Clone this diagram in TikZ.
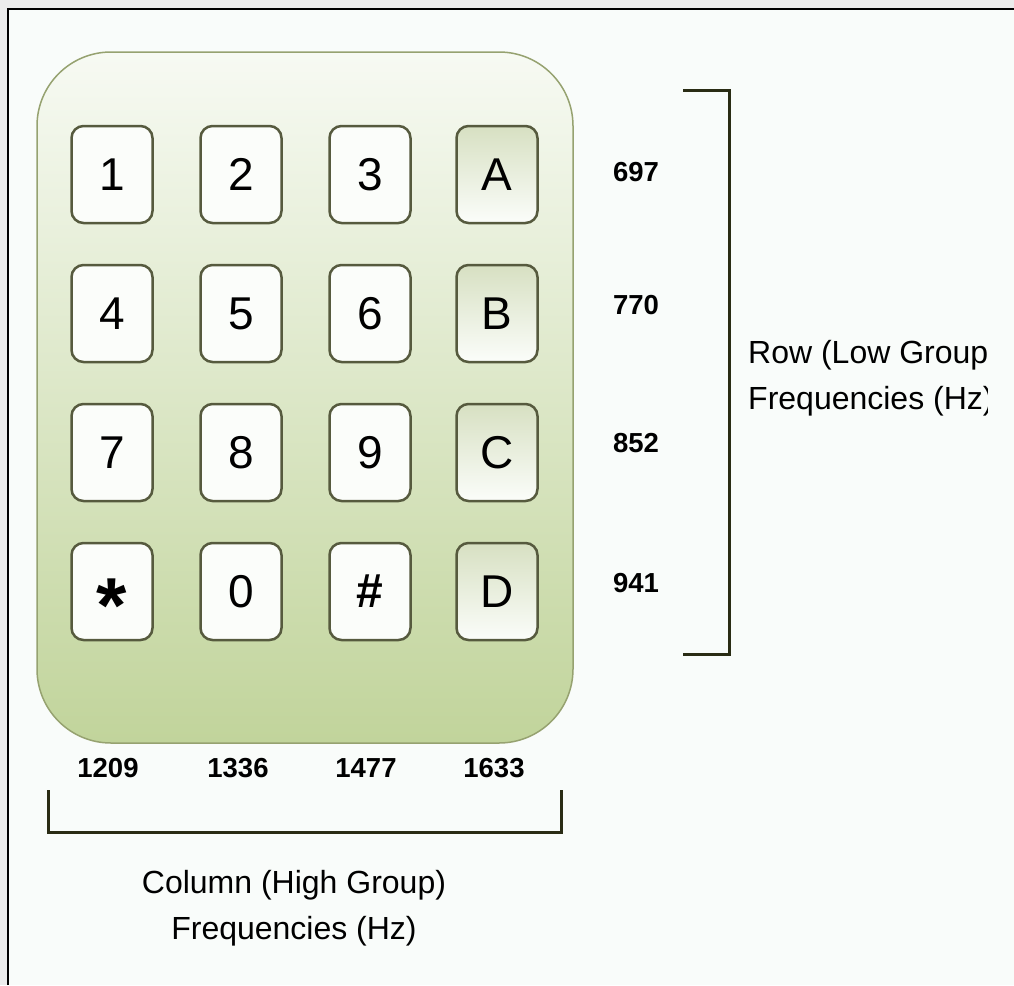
\documentclass[tikz,border=0pt]{standalone}
\usepackage{fontspec}
\setmainfont{Liberation Sans}
\definecolor{bg}{RGB}{249,252,250}
\definecolor{outer}{RGB}{236,236,236}
\definecolor{bodytop}{RGB}{247,250,243}
\definecolor{bodymid}{RGB}{226,235,208}
\definecolor{bodybot}{RGB}{193,212,155}
\definecolor{bodyedge}{RGB}{150,162,112}
\definecolor{keyedge}{RGB}{86,90,62}
\definecolor{keyfill}{RGB}{251,253,250}
\definecolor{keytint}{RGB}{215,224,194}
\definecolor{brk}{RGB}{42,44,20}
\begin{document}
\begin{tikzpicture}[x=1pt,y=-1pt,
  keybox/.style={draw=keyedge, line width=2.5pt, rounded corners=12pt, fill=keyfill,
    minimum width=81pt, minimum height=97pt, inner sep=0pt,
    font=\fontsize{46}{46}\selectfont},
  keytinted/.style={keybox, top color=keytint, bottom color=keyfill},
  freq/.style={font=\bfseries\fontsize{27.5}{28}\selectfont, inner sep=0pt},
  caption/.style={font=\fontsize{32}{46}\selectfont, inner sep=0pt},
  bracket/.style={draw=brk, line width=3pt}
]
\clip (0,0) rectangle (1014,985);
\useasboundingbox (0,0) rectangle (1014,985);
% background and frame
\fill[outer] (0,0) rectangle (1014,985);
\fill[bg] (8,9) rectangle (1014,985);
\draw[black, line width=2.5pt] (8,985) -- (8,9) -- (1014,9);

% keypad body
\node (body) [draw=bodyedge, line width=1.5pt, rounded corners=74pt,
  top color=bodytop, middle color=bodymid, bottom color=bodybot,
  minimum width=536pt, minimum height=691pt, inner sep=0pt] at (305,397.5) {};

% keys
\node[keybox] (k1) at (112,174.5) {1};
\node[keybox] (k2) at (241,174.5) {2};
\node[keybox] (k3) at (370,174.5) {3};
\node[keytinted] (kA) at (497,174.5) {A};
\node[keybox] (k4) at (112,313.5) {4};
\node[keybox] (k5) at (241,313.5) {5};
\node[keybox] (k6) at (370,313.5) {6};
\node[keytinted] (kB) at (497,313.5) {B};
\node[keybox] (k7) at (112,452.5) {7};
\node[keybox] (k8) at (241,452.5) {8};
\node[keybox] (k9) at (370,452.5) {9};
\node[keytinted] (kC) at (497,452.5) {C};
\node[keybox] (kS) at (112,591.5) {\smash{\raisebox{-41pt}{\bfseries\fontsize{78}{78}\selectfont *}}};
\node[keybox] (k0) at (241,591.5) {0};
\node[keybox] (kH) at (370,591.5) {\bfseries\fontsize{48}{48}\selectfont\#};
\node[keytinted] (kD) at (497,591.5) {D};

% row frequencies
\node[freq] (f697) at (636,172) {697};
\node[freq] (f770) at (636,305) {770};
\node[freq] (f852) at (636,443) {852};
\node[freq] (f941) at (636,583) {941};

% column frequencies
\node[freq] (f1209) at (108,768) {1209};
\node[freq] (f1336) at (238,768) {1336};
\node[freq] (f1477) at (366,768) {1477};
\node[freq] (f1633) at (494,768) {1633};

% row bracket
\coordinate (rbA) at (683,90);
\coordinate (rbB) at (729,90);
\coordinate (rbC) at (729,654);
\coordinate (rbD) at (683,654);
\draw[bracket] (rbA) -- (rbB) -- (rbC) -- (rbD);

% column bracket
\coordinate (cbA) at (48,790);
\coordinate (cbB) at (48,832);
\coordinate (cbC) at (561,832);
\coordinate (cbD) at (561,790);
\draw[bracket] (cbA) -- (cbB) -- (cbC) -- (cbD);

% captions
\begin{scope}
\clip (740,300) rectangle (987,440);
\node[caption, anchor=base west] (rowcap1) at (748,363.5) {Row (Low Group)};
\node[caption, anchor=base west] (rowcap2) at (748,409.5) {Frequencies (Hz)};
\end{scope}
\node[caption, anchor=base] (colcap1) at (294,893.5) {Column (High Group)};
\node[caption, anchor=base] (colcap2) at (294,939.5) {Frequencies (Hz)};
\end{tikzpicture}
\end{document}
